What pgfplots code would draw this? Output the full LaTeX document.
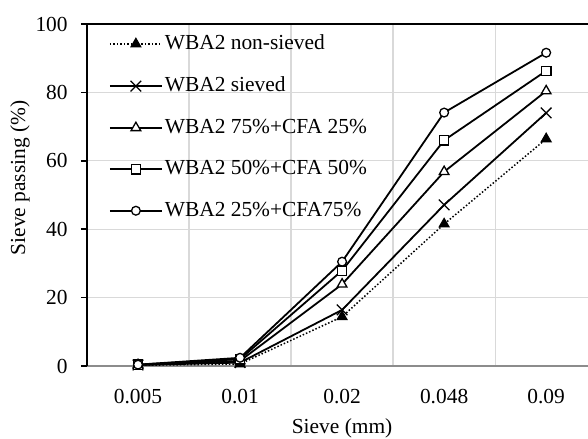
\documentclass[border=0pt]{standalone}
\usepackage{fontspec}
\setmainfont{Liberation Serif}
\usepackage{pgfplots}
\pgfplotsset{compat=1.18}
\definecolor{gridc}{HTML}{D9D9D9}
\definecolor{xaxc}{HTML}{8C8C8C}
\newcommand{\ff}{\fontsize{21.5}{25}\selectfont}
\begin{document}
\ff
\begin{tikzpicture}
\begin{axis}[
  scale only axis, width=501bp, height=342bp,
  xmin=-0.5, xmax=4.41, ymin=0, ymax=100,
  xtick={0,1,2,3,4}, xticklabels={0.005,0.01,0.02,0.048,0.09},
  minor xtick={0.5,1.5,2.5,3.5},
  xminorgrids, ymajorgrids,
  ytick={0,20,40,60,80,100},
  grid style={draw=gridc, line width=1.3bp},
  minor grid style={draw=gridc, line width=1.3bp},
  axis x line*=bottom, axis y line*=left,
  x axis line style={draw=xaxc, line width=1.5bp, -},
  y axis line style={draw=black, line width=1.5bp, -},
  tick align=outside, major tick length=6bp,
  x tick style={draw=none}, minor x tick style={draw=none},
  y tick style={draw=black, line width=1.5bp},
  /pgf/number format/assume math mode=true,
  tick label style={font=\ff},
  xticklabel style={yshift=-10bp},
  yticklabel style={xshift=-6bp},
  label style={font=\ff},
  xlabel={Sieve (mm)},
  xlabel style={at={(axis cs:2,0)}, anchor=south, inner sep=0pt, yshift=-72.5bp},
  ylabel={Sieve passing (\%)},
  ylabel style={at={(rel axis cs:0,0.55)}, anchor=center, xshift=0bp, yshift=67bp},
  legend style={at={(rel axis cs:0,1)}, anchor=north west, xshift=22bp, yshift=-9bp,
    draw=none, fill=none, inner sep=0pt, outer sep=0pt, row sep=20bp,
    font=\ff,
    cells={anchor=west}},
  legend image code/.code={\draw[mark repeat=2,mark phase=2] plot coordinates {(0bp,0bp) (26bp,0bp) (52bp,0bp)};},
  clip=false,
]
\addplot[black, line width=1.5bp, dotted, mark=triangle*, mark size=5.8bp,
  mark options={solid, fill=black, line width=1bp}]
  coordinates {(0,0.2) (1,0.6) (2,14.4) (3,41.5) (4,66.4)};
\addlegendentry{WBA2 non-sieved}
\addplot[black, line width=1.8bp, mark=x, mark size=7.5bp,
  mark options={solid, line width=1.3bp}]
  coordinates {(0,0.3) (1,1.0) (2,16.4) (3,47.1) (4,74.0)};
\addlegendentry{WBA2 sieved}
\addplot[black, line width=1.8bp, mark=triangle*, mark size=5.6bp,
  mark options={solid, fill=white, line width=1.3bp}]
  coordinates {(0,0.3) (1,1.5) (2,23.9) (3,56.8) (4,80.4)};
\addlegendentry{WBA2 75\%+CFA 25\%}
\addplot[black, line width=1.8bp, mark=square*, mark size=4.7bp,
  mark options={solid, fill=white, line width=1.3bp}]
  coordinates {(0,0.4) (1,2.0) (2,27.9) (3,66.0) (4,86.3)};
\addlegendentry{WBA2 50\%+CFA 50\%}
\addplot[black, line width=1.8bp, mark=*, mark size=4.4bp,
  mark options={solid, fill=white, line width=1.3bp}]
  coordinates {(0,0.4) (1,2.4) (2,30.5) (3,74.1) (4,91.6)};
\addlegendentry{WBA2 25\%+CFA75\%}
\draw[black, line width=1.5bp] (rel axis cs:0,1) -- (rel axis cs:1,1);
\coordinate (ll) at (rel axis cs:0,0);
\end{axis}
\pgfresetboundingbox
\path ([shift={(-87bp,-73bp)}]ll) rectangle ([shift={(501bp,366bp)}]ll);
\end{tikzpicture}
\end{document}
